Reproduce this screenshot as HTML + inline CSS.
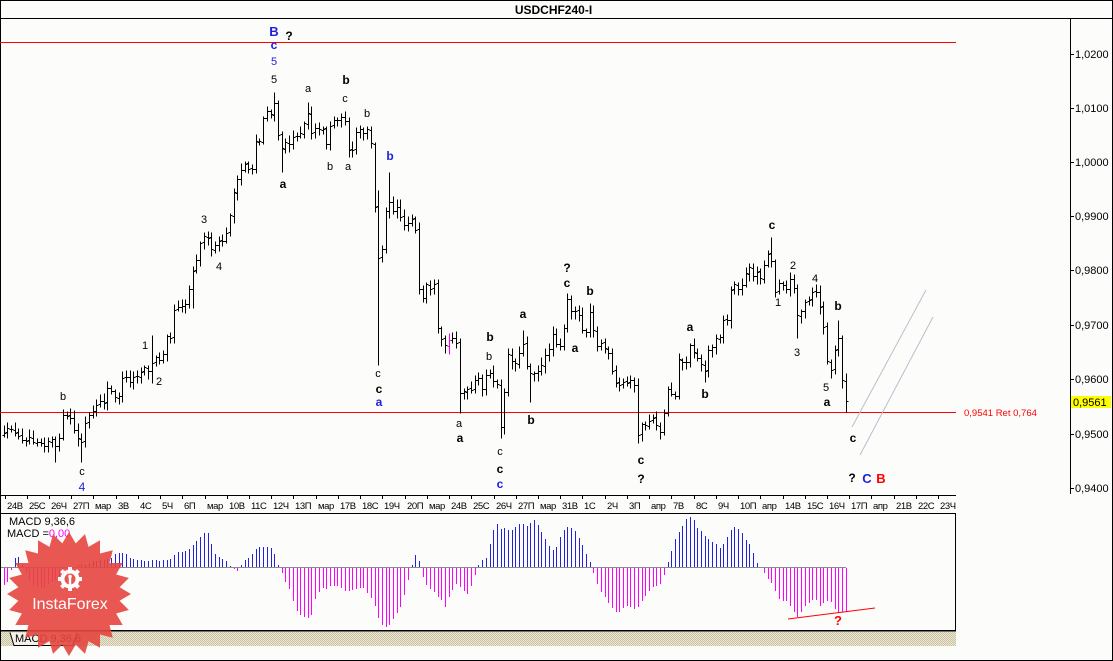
<!DOCTYPE html>
<html><head><meta charset="utf-8"><style>
html,body{margin:0;padding:0;background:#fcfdfb;overflow:hidden;}
svg{display:block;}
text{font-family:"Liberation Sans",Arial,sans-serif;}
.n{font-size:11px;fill:#000;}
.b{font-size:12px;font-weight:bold;fill:#000;}
.bl{fill:#2020e0;}
.ax{font-size:11px;fill:#000;}
.tx{font-size:9.5px;fill:#000;letter-spacing:-0.4px;}
</style></head><body>
<svg id="c" xmlns="http://www.w3.org/2000/svg" width="1113" height="661" viewBox="0 0 1113 661">
<defs><pattern id="h" width="2" height="2" patternUnits="userSpaceOnUse"><rect width="2" height="2" fill="#ece8d8"/><rect width="1" height="1" fill="#c9c1a0"/><rect x="1" y="1" width="1" height="1" fill="#c9c1a0"/></pattern></defs>
<rect width="1113" height="661" fill="#fcfdfb"/>
<g shape-rendering="crispEdges" stroke="#000" stroke-width="1" fill="none">
<rect x="0.5" y="0.5" width="1112" height="660"/>
<line x1="0" y1="18.5" x2="1113" y2="18.5"/>
<line x1="1070.5" y1="18" x2="1070.5" y2="494"/>
<line x1="0" y1="495.5" x2="956" y2="495.5"/>
<line x1="0" y1="513.5" x2="956" y2="513.5"/>
<line x1="955.5" y1="513" x2="955.5" y2="631"/>
<line x1="0" y1="630.5" x2="956" y2="630.5"/>
</g>
<line x1="1" y1="631.5" x2="956" y2="631.5" stroke="#707070" shape-rendering="crispEdges"/>
<rect x="1" y="632" width="955" height="14" fill="url(#h)"/>
<path d="M10 632.5L14 645.5H73L77 632.5" fill="#f3f1e8" stroke="#000" stroke-width="1"/>
<text x="15" y="642" class="ax">MACD 9,36,6</text>

<text x="553.5" y="14" text-anchor="middle" style="font-size:12px;font-weight:bold;">USDCHF240-I</text>

<g shape-rendering="crispEdges" stroke="#ff0000">
<line x1="0" y1="42.5" x2="956" y2="42.5"/>
<line x1="0" y1="412.5" x2="956" y2="412.5"/>
</g>
<text x="964" y="416" style="font-size:9.5px;fill:#ff0000;">0,9541 Ret 0,764</text>

<g shape-rendering="crispEdges" stroke="#000">
<path d="M1070 54.5H1074M1070 108.5H1074M1070 162.5H1074M1070 216.5H1074M1070 270.5H1074M1070 325.5H1074M1070 379.5H1074M1070 434.5H1074M1070 488.5H1074"/>
</g>
<g class="ax">
<text x="1075" y="58" class="ax">1,0200</text>
<text x="1075" y="112" class="ax">1,0100</text>
<text x="1075" y="166" class="ax">1,0000</text>
<text x="1075" y="220" class="ax">0,9900</text>
<text x="1075" y="274" class="ax">0,9800</text>
<text x="1075" y="329" class="ax">0,9700</text>
<text x="1075" y="383" class="ax">0,9600</text>
<text x="1075" y="438" class="ax">0,9500</text>
<text x="1075" y="492" class="ax">0,9400</text>
</g>
<rect x="1071" y="396" width="40" height="12" fill="#ffff00"/>
<text x="1073" y="406" class="ax">0,9561</text>

<path id="tt" stroke="#000" shape-rendering="crispEdges" fill="none"/>
<g class="tx">
<text x="7" y="509" class="tx">24В</text><text x="29" y="509" class="tx">25С</text><text x="51" y="509" class="tx">26Ч</text><text x="73" y="509" class="tx">27П</text><text x="95" y="509" class="tx">мар</text><text x="118" y="509" class="tx">3В</text><text x="140" y="509" class="tx">4С</text><text x="162" y="509" class="tx">5Ч</text><text x="184" y="509" class="tx">6П</text><text x="207" y="509" class="tx">мар</text><text x="229" y="509" class="tx">10В</text><text x="251" y="509" class="tx">11С</text><text x="273" y="509" class="tx">12Ч</text><text x="295" y="509" class="tx">13П</text><text x="318" y="509" class="tx">мар</text><text x="340" y="509" class="tx">17В</text><text x="362" y="509" class="tx">18С</text><text x="384" y="509" class="tx">19Ч</text><text x="407" y="509" class="tx">20П</text><text x="429" y="509" class="tx">мар</text><text x="451" y="509" class="tx">24В</text><text x="473" y="509" class="tx">25С</text><text x="496" y="509" class="tx">26Ч</text><text x="518" y="509" class="tx">27П</text><text x="540" y="509" class="tx">мар</text><text x="562" y="509" class="tx">31В</text><text x="584" y="509" class="tx">1С</text><text x="607" y="509" class="tx">2Ч</text><text x="629" y="509" class="tx">3П</text><text x="651" y="509" class="tx">апр</text><text x="673" y="509" class="tx">7В</text><text x="696" y="509" class="tx">8С</text><text x="718" y="509" class="tx">9Ч</text><text x="740" y="509" class="tx">10П</text><text x="762" y="509" class="tx">апр</text><text x="785" y="509" class="tx">14В</text><text x="807" y="509" class="tx">15С</text><text x="829" y="509" class="tx">16Ч</text><text x="851" y="509" class="tx">17П</text><text x="873" y="509" class="tx">апр</text><text x="896" y="509" class="tx">21В</text><text x="918" y="509" class="tx">22С</text><text x="940" y="509" class="tx">23Ч</text>
</g>

<line x1="852" y1="427" x2="926" y2="290" stroke="#bcbccc" stroke-width="1"/>
<line x1="860" y1="455" x2="933" y2="317" stroke="#bcbccc" stroke-width="1"/>

<path id="bars" fill="none" stroke="#000" stroke-width="1" shape-rendering="crispEdges"/>
<path id="magb" fill="none" stroke="#ff00ff" stroke-width="1" shape-rendering="crispEdges"/>

<line x1="1" y1="567.5" x2="846" y2="567.5" stroke="#8a8a8a" shape-rendering="crispEdges"/>
<path id="mp" fill="none" stroke="#2222dd" stroke-width="1" shape-rendering="crispEdges"/>
<path id="mn" fill="none" stroke="#ff00ff" stroke-width="1" shape-rendering="crispEdges"/>
<line x1="788" y1="619" x2="875" y2="608" stroke="#ff0000" stroke-width="1"/>
<text x="838" y="625" text-anchor="middle" style="font-size:13px;font-weight:bold;fill:#ff0000;">?</text>
<text x="9" y="525" class="ax">MACD 9,36,6</text>
<text x="7" y="537" class="ax">MACD =<tspan fill="#ff00ff">0,00</tspan></text>

<g text-anchor="middle">
<text x="274" y="36" class="b bl" style="font-size:13px">B</text>
<text x="289" y="40" class="b">?</text>
<text x="274" y="49" class="b bl">c</text>
<text x="274" y="65" class="n bl">5</text>
<text x="274" y="83" class="n">5</text>
<text x="308" y="92" class="n">a</text>
<text x="346" y="84" class="b">b</text>
<text x="345" y="102" class="n">c</text>
<text x="367" y="117" class="n">b</text>
<text x="390" y="160" class="b bl">b</text>
<text x="283" y="188" class="b">a</text>
<text x="330" y="170" class="n">b</text>
<text x="348" y="170" class="n">a</text>
<text x="63" y="400" class="n">b</text>
<text x="82" y="475" class="n">c</text>
<text x="82" y="491" class="n bl" style="font-size:12px">4</text>
<text x="145" y="349" class="n">1</text>
<text x="159" y="385" class="n">2</text>
<text x="204" y="223" class="n">3</text>
<text x="219" y="270" class="n">4</text>
<text x="378" y="377" class="n">c</text>
<text x="379" y="393" class="b">c</text>
<text x="379" y="406" class="b bl">a</text>
<text x="459" y="427" class="n">a</text>
<text x="460" y="442" class="b">a</text>
<text x="490" y="341" class="b">b</text>
<text x="489" y="360" class="n">b</text>
<text x="500" y="455" class="n">c</text>
<text x="500" y="473" class="b">c</text>
<text x="500" y="488" class="b bl">c</text>
<text x="523" y="318" class="b">a</text>
<text x="531" y="424" class="b">b</text>
<text x="567" y="272" class="b">?</text>
<text x="567" y="287" class="b">c</text>
<text x="590" y="295" class="b">b</text>
<text x="575" y="352" class="b">a</text>
<text x="641" y="464" class="b">c</text>
<text x="641" y="483" class="b">?</text>
<text x="690" y="331" class="b">a</text>
<text x="705" y="398" class="b">b</text>
<text x="772" y="229" class="b">c</text>
<text x="778" y="306" class="n">1</text>
<text x="793" y="269" class="n">2</text>
<text x="797" y="356" class="n">3</text>
<text x="815" y="282" class="n">4</text>
<text x="826" y="391" class="n">5</text>
<text x="827" y="406" class="b">a</text>
<text x="838" y="310" class="b">b</text>
<text x="853" y="442" class="b">c</text>
<text x="852" y="482" class="b">?</text>
<text x="867" y="483" class="b bl" style="font-size:13px">C</text>
<text x="881" y="483" class="b" style="font-size:13px;fill:#ff0000">B</text>
</g>

<g id="stamp" opacity="0.9">
<polygon id="star" fill="#e6463f"/>
<g id="gear" fill="#ffffff"></g>
<circle cx="70" cy="579" r="5.5" fill="#e6463f"/>
<rect x="68.8" y="578" width="2.4" height="11" fill="#ffffff"/>
<circle cx="70" cy="576.5" r="1.8" fill="#ffffff"/>
<text x="70" y="609" text-anchor="middle" style="font-size:16px;fill:#ffffff;">InstaForex</text>
</g>
</svg>
<script>
(function(){
var K=[[3,435],[7,430],[11,428],[14,433],[18,436],[21,438],[25,440],[29,436],[32,441],[36,440],[40,442],[44,445],[47,441],[51,440],[54,438],[57,458],[61,419],[64,414],[68,418],[72,418],[75,436],[79,440],[82,442],[86,418],[89,416],[93,412],[96,407],[100,400],[104,402],[108,386],[112,393],[116,400],[120,393],[123,374],[127,377],[131,385],[134,373],[138,376],[142,370],[146,364],[149,375],[153,358],[156,358],[160,360],[164,350],[167,333],[171,337],[175,302],[178,306],[182,305],[186,303],[190,284],[193,268],[197,257],[201,240],[204,235],[208,240],[212,252],[215,245],[219,242],[223,240],[227,232],[230,213],[234,190],[238,178],[242,168],[245,163],[249,170],[253,168],[256,138],[260,142],[264,112],[267,110],[271,115],[275,102],[279,145],[282,150],[286,140],[290,145],[293,138],[297,135],[301,132],[305,120],[308,112],[312,135],[316,125],[319,130],[323,128],[327,147],[330,125],[334,120],[338,118],[342,118],[345,120],[349,155],[353,150],[356,132],[360,130],[364,135],[367,128],[371,145],[374,200],[378,258],[382,248],[386,208],[389,200],[393,210],[397,205],[401,218],[404,225],[408,222],[412,217],[415,225],[419,290],[423,300],[426,285],[430,290],[434,285],[438,335],[441,340],[445,345],[449,340],[452,338],[456,340],[460,395],[463,392],[467,390],[471,390],[475,380],[478,378],[482,390],[486,373],[489,372],[493,382],[497,383],[501,432],[504,397],[508,353],[512,362],[515,363],[519,355],[523,343],[527,367],[530,373],[534,372],[538,370],[541,367],[545,357],[549,347],[553,332],[556,343],[560,345],[564,328],[567,298],[571,312],[575,310],[578,313],[582,328],[586,332],[589,307],[593,327],[597,347],[601,342],[604,347],[608,353],[612,372],[615,383],[619,385],[623,382],[627,383],[630,378],[634,383],[638,437],[641,423],[645,427],[649,420],[652,417],[656,423],[660,432],[664,413],[667,387],[671,393],[675,395],[678,357],[682,363],[686,362],[690,345],[693,350],[697,357],[701,365],[704,375],[708,350],[712,348],[715,337],[719,338],[723,320],[727,320],[730,290],[734,285],[738,288],[741,288],[745,275],[749,265],[752,278],[756,272],[760,278],[763,270],[767,252],[771,257],[775,292],[778,282],[782,283],[786,290],[789,280],[793,280],[797,315],[800,313],[804,303],[808,302],[812,292],[815,290],[819,303],[823,322],[826,357],[830,373],[834,357],[837,323],[841,372],[845,401]];
var S=[[57,0,462],[82,0,462],[153,335,383],[193,0,308],[275,92,0],[282,0,172],[308,102,0],[345,112,0],[349,0,157],[378,190,365],[389,172,0],[460,0,413],[501,0,438],[523,330,0],[530,0,402],[567,295,0],[589,303,0],[638,0,443],[704,0,382],[771,237,0],[797,0,338],[815,287,0],[837,320,0],[845,0,412]];
var M=[[4,-17],[7,-15],[11,-2],[15,10],[19,10],[22,2],[26,-5],[30,-14],[34,-18],[38,-20],[42,-20],[46,-18],[50,-15],[55,-12],[60,-10],[66,-6],[72,-2],[76,2],[80,3],[86,2],[90,5],[100,7],[108,8],[113,9],[115,14],[120,14],[125,14],[130,9],[137,7],[145,6],[152,7],[160,6],[170,8],[178,15],[187,16],[195,25],[200,30],[205,35],[209,33],[213,15],[218,10],[222,8],[227,5],[231,0],[234,-1],[237,-3],[241,2],[245,7],[250,10],[253,15],[258,20],[266,20],[270,20],[275,12],[278,2],[280,-2],[283,-8],[287,-17],[290,-23],[295,-41],[300,-47],[305,-49],[310,-50],[313,-43],[316,-26],[320,-23],[323,-20],[327,-21],[330,-18],[335,-18],[340,-19],[345,-23],[350,-23],[357,-21],[362,-19],[366,-23],[370,-29],[374,-36],[378,-50],[382,-57],[385,-60],[390,-56],[394,-50],[398,-43],[402,-36],[405,-23],[409,-8],[412,3],[415,13],[419,6],[422,-8],[426,-16],[430,-21],[433,-23],[437,-28],[441,-32],[445,-39],[448,-30],[452,-23],[456,-16],[460,-19],[463,-23],[467,-26],[470,-21],[474,-9],[478,2],[482,7],[485,7],[488,16],[491,29],[494,40],[497,43],[501,38],[504,39],[508,37],[512,37],[515,40],[519,43],[522,44],[526,40],[530,44],[533,48],[537,43],[541,36],[544,30],[548,22],[552,17],[555,16],[559,28],[563,36],[566,40],[570,40],[574,37],[577,32],[581,25],[585,16],[588,8],[592,0],[596,-13],[599,-22],[603,-26],[607,-33],[610,-38],[614,-43],[618,-45],[621,-43],[625,-38],[629,-38],[632,-40],[636,-41],[640,-36],[643,-30],[647,-26],[651,-21],[654,-18],[658,-18],[662,-15],[665,-3],[669,9],[673,21],[676,31],[680,37],[684,44],[687,49],[691,51],[695,44],[698,37],[702,35],[705,31],[709,27],[713,25],[716,23],[720,19],[723,23],[727,30],[731,38],[734,40],[738,38],[742,34],[745,27],[749,23],[753,14],[756,5],[760,0],[763,-3],[767,-10],[771,-14],[775,-23],[778,-30],[782,-33],[786,-33],[789,-36],[793,-43],[797,-50],[800,-46],[804,-38],[808,-36],[811,-33],[815,-30],[819,-38],[822,-36],[826,-33],[830,-33],[833,-38],[837,-45],[846,-44]];
function f(A,x){var n=A.length;if(x<=A[0][0])return A[0][1];for(var i=1;i<n;i++){if(x<=A[i][0]){var a=A[i-1],b=A[i];return a[1]+(b[1]-a[1])*(x-a[0])/(b[0]-a[0]);}}return A[n-1][1];}
var sd=12345;function r(){sd=(sd*16807)%2147483647;return sd/2147483647;}
function Y(v){return Math.round(v)+0.5;}
var N=228,dB='',dM='',pc=f(K,3.5),sp={};
S.forEach(function(s){sp[Math.round((s[0]-3.5)/3.71)]=s;});
for(var i=0;i<N;i++){
 var x=3.5+3.71*i,X=Math.round(x)+0.5;
 var c=f(K,x)+(r()-0.5)*3; if(i==N-1)c=401;
 var o=pc+(r()-0.5)*2;
 var hi=Math.min(o,c)-2-r()*6,lo=Math.max(o,c)+2+r()*6;
 var s=sp[i]; if(s){if(s[1])hi=Math.min(hi,s[1]);if(s[2])lo=Math.max(lo,s[2]);}
 var seg='M'+X+' '+Y(hi)+'V'+Y(lo)+'M'+(X-2)+' '+Y(o)+'H'+X+'M'+X+' '+Y(c)+'H'+(X+2);
 if(Math.abs(x-448)<1.86)dM+=seg;else dB+=seg;
 pc=c;
}
document.getElementById('bars').setAttribute('d',dB);
document.getElementById('magb').setAttribute('d',dM);
var dp='',dn='';
for(i=0;i<N;i++){var x2=3.5+3.71*i,X2=Math.round(x2)+0.5,v=Math.round(f(M,x2));if(v>0)dp+='M'+X2+' 567V'+(567-v);else if(v<0)dn+='M'+X2+' 568V'+(568-v);}
document.getElementById('mp').setAttribute('d',dp);
document.getElementById('mn').setAttribute('d',dn);
var tt='';for(var k=0;k<=42;k++){var tx=Math.round(4.5+22.23*k)+0.5;tt+='M'+tx+' 495V499';}
document.getElementById('tt').setAttribute('d',tt);
var pts=[];for(i=0;i<48;i++){var a=i*Math.PI/24-Math.PI/2;var R=(i%2)?51:62;pts.push((69+R*Math.cos(a)).toFixed(1)+','+(594+R*Math.sin(a)).toFixed(1));}
document.getElementById('star').setAttribute('points',pts.join(' '));
var g=document.getElementById('gear'),ns='http://www.w3.org/2000/svg';
var cc=document.createElementNS(ns,'circle');cc.setAttribute('cx',70);cc.setAttribute('cy',579);cc.setAttribute('r',9.5);g.appendChild(cc);
for(i=0;i<8;i++){var rc=document.createElementNS(ns,'rect');rc.setAttribute('x',68);rc.setAttribute('y',567);rc.setAttribute('width',4);rc.setAttribute('height',5);rc.setAttribute('transform','rotate('+(i*45)+' 70 579)');g.appendChild(rc);}
})();
</script>
</body></html>
